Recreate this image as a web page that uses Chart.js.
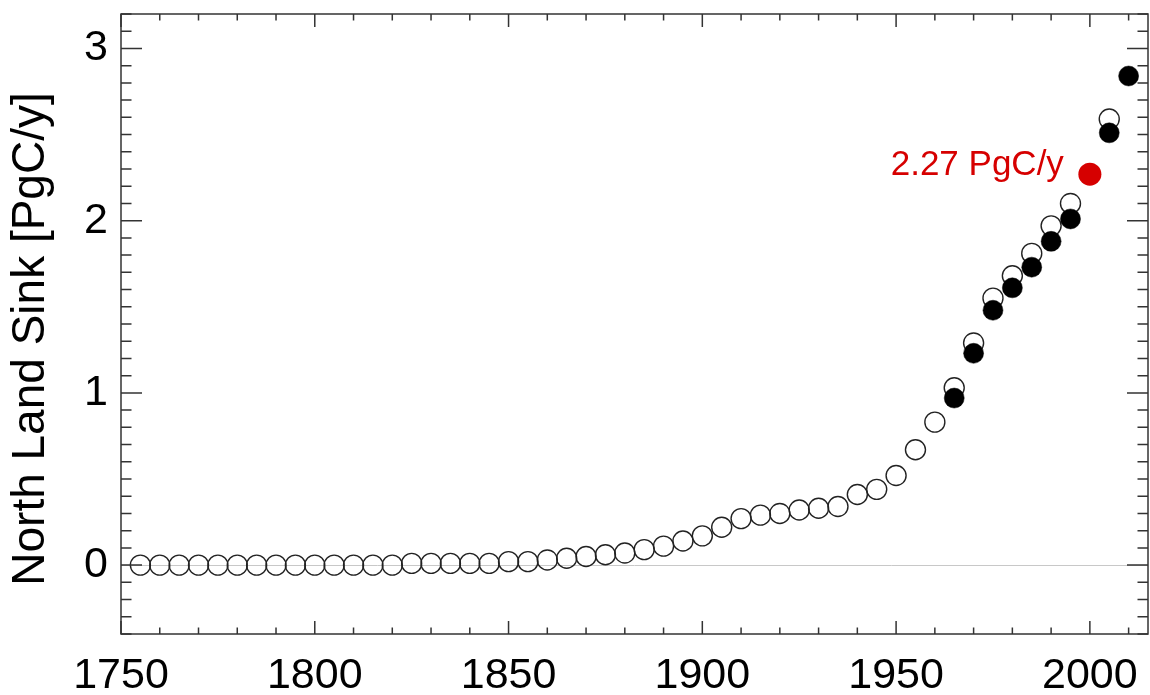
<!DOCTYPE html>
<html>
<head>
<meta charset="utf-8">
<script src="https://cdn.jsdelivr.net/npm/chart.js@4.4.1/dist/chart.umd.min.js"></script>
<style>
  html, body { margin: 0; padding: 0; background: #fff; }
  #wrap { width: 1150px; height: 695px; position: relative; }
</style>
</head>
<body>
<div id="wrap"><canvas id="sinkChart"></canvas></div>
<script>
/******************* North Land Sink ***********************/
// model estimate, every 5 years (open circles); null = not visible
const YEARS = [1755, 1760, 1765, 1770, 1775, 1780, 1785, 1790, 1795, 1800,
               1805, 1810, 1815, 1820, 1825, 1830, 1835, 1840, 1845, 1850,
               1855, 1860, 1865, 1870, 1875, 1880, 1885, 1890, 1895, 1900,
               1905, 1910, 1915, 1920, 1925, 1930, 1935, 1940, 1945, 1950,
               1955, 1960, 1965, 1970, 1975, 1980, 1985, 1990, 1995, 2000,
               2005, 2010];
const OPEN_VALUES = [0.00, 0.00, 0.00, 0.00, 0.00, 0.00, 0.00, 0.00, 0.00, 0.00,
                     0.00, 0.00, 0.00, 0.00, 0.01, 0.01, 0.01, 0.01, 0.01, 0.02,
                     0.02, 0.03, 0.04, 0.05, 0.06, 0.07, 0.09, 0.11, 0.14, 0.17,
                     0.22, 0.27, 0.29, 0.30, 0.32, 0.33, 0.34, 0.41, 0.44, 0.52,
                     0.67, 0.83, 1.03, 1.29, 1.55, 1.68, 1.81, 1.97, 2.10, null,
                     2.59, null];

// second estimate (filled circles)
const FILLED_YEARS = [1965, 1970, 1975, 1980, 1985, 1990, 1995, 2005, 2010];
const FILLED_VALUES = [0.97, 1.23, 1.48, 1.61, 1.73, 1.88, 2.01, 2.51, 2.84];

// highlighted value
const RED_YEAR = [2000];
const RED_VALUE = [2.27];
const RED_LABEL = '2.27 PgC/y';

// axes
const X_TICKS = [1750, 1800, 1850, 1900, 1950, 2000];
const Y_TICKS = [0, 1, 2, 3];
const Y_TITLE = 'North Land Sink [PgC/y]';

const FONT = 'Liberation Sans, Arial, sans-serif';
const RED = 'rgb(214, 0, 0)';

function toPoints(xs, ys) {
    return xs.map((x, i) => ({x: x, y: ys[i]}));
}

// no extra room for label overhang, the frame is placed by hand
function noPadding(s) {
    s.paddingTop = 0;
    s.paddingBottom = 0;
    s.paddingLeft = 0;
    s.paddingRight = 0;
}

// frame with inward ticks on all four sides, zero line, labels
const framePlugin = {
    id: 'frame',
    beforeDatasetsDraw(chart) {
        const ctx = chart.ctx;
        const a = chart.chartArea;
        const y = chart.scales.y;
        ctx.save();
        ctx.strokeStyle = '#c8c8c8';
        ctx.lineWidth = 1;
        ctx.beginPath();
        ctx.moveTo(a.left, Math.round(y.getPixelForValue(0)) + 0.5);
        ctx.lineTo(a.right, Math.round(y.getPixelForValue(0)) + 0.5);
        ctx.stroke();
        ctx.restore();
    },
    afterDraw(chart) {
        const ctx = chart.ctx;
        const a = chart.chartArea;
        const x = chart.scales.x;
        const y = chart.scales.y;
        ctx.save();
        ctx.strokeStyle = '#333';
        ctx.lineWidth = 1.5;
        ctx.strokeRect(a.left, a.top, a.right - a.left, a.bottom - a.top);
        ctx.beginPath();
        for (let v = 1750; v <= 2015; v += 10) {
            const px = x.getPixelForValue(v);
            const len = (v % 50 === 0) ? 13 : 6.5;
            ctx.moveTo(px, a.bottom); ctx.lineTo(px, a.bottom - len);
            ctx.moveTo(px, a.top); ctx.lineTo(px, a.top + len);
        }
        for (let i = -4; i <= 32; i++) {
            const py = y.getPixelForValue(i / 10);
            const len = (i % 10 === 0) ? 21 : 10.5;
            ctx.moveTo(a.left, py); ctx.lineTo(a.left + len, py);
            ctx.moveTo(a.right, py); ctx.lineTo(a.right - len, py);
        }
        ctx.stroke();

        // y title
        ctx.fillStyle = '#000';
        ctx.font = '46px ' + FONT;
        ctx.textAlign = 'center';
        ctx.textBaseline = 'middle';
        ctx.translate(31, 339);
        ctx.rotate(-Math.PI / 2);
        ctx.fillText(Y_TITLE, 0, 0);
        ctx.restore();

        // label next to the red point
        ctx.save();
        ctx.fillStyle = RED;
        ctx.font = '35px ' + FONT;
        ctx.textAlign = 'right';
        ctx.textBaseline = 'alphabetic';
        ctx.fillText(RED_LABEL, x.getPixelForValue(RED_YEAR[0]) - 26, y.getPixelForValue(RED_VALUE[0]) + 1);
        ctx.restore();
    }
};

const config = {
    type: 'scatter',
    data: {
        datasets: [
            {
                label: 'highlight',
                data: toPoints(RED_YEAR, RED_VALUE),
                pointRadius: 11.5,
                pointBackgroundColor: RED,
                pointBorderColor: RED,
                pointBorderWidth: 0,
                order: 0
            },
            {
                label: 'filled',
                data: toPoints(FILLED_YEARS, FILLED_VALUES),
                pointRadius: 10,
                pointBackgroundColor: '#000',
                pointBorderColor: '#000',
                pointBorderWidth: 0.5,
                order: 1
            },
            {
                label: 'open',
                data: toPoints(YEARS, OPEN_VALUES),
                pointRadius: 10,
                pointBackgroundColor: 'rgba(0,0,0,0)',
                pointBorderColor: '#222',
                pointBorderWidth: 1.4,
                order: 2
            }
        ]
    },
    options: {
        responsive: true,
        maintainAspectRatio: false,
        animation: false,
        layout: {
            autoPadding: false,
            padding: {top: 14, right: 2, left: 0, bottom: 0}
        },
        plugins: {
            legend: {display: false},
            tooltip: {enabled: false},
            title: {display: false}
        },
        scales: {
            x: {
                type: 'linear',
                min: 1750,
                max: 2015,
                afterBuildTicks: (s) => { s.ticks = X_TICKS.map(v => ({value: v})); },
                afterFit: (s) => { s.height = 61; noPadding(s); },
                grid: {display: false, drawTicks: false},
                border: {display: false},
                ticks: {
                    font: {family: FONT, size: 43},
                    color: '#000',
                    padding: 16,
                    maxRotation: 0,
                    autoSkip: false,
                    callback: (v) => String(v)
                }
            },
            y: {
                type: 'linear',
                min: -0.4,
                max: 3.2,
                afterBuildTicks: (s) => { s.ticks = Y_TICKS.map(v => ({value: v})); },
                afterFit: (s) => { s.width = 121; noPadding(s); },
                grid: {display: false, drawTicks: false},
                border: {display: false},
                ticks: {
                    font: {family: FONT, size: 43},
                    color: '#000',
                    padding: 13,
                    callback: (v) => String(v)
                }
            }
        }
    },
    plugins: [framePlugin]
};

const sinkChart = new Chart(
    document.getElementById('sinkChart'),
    config
);
</script>
</body>
</html>
